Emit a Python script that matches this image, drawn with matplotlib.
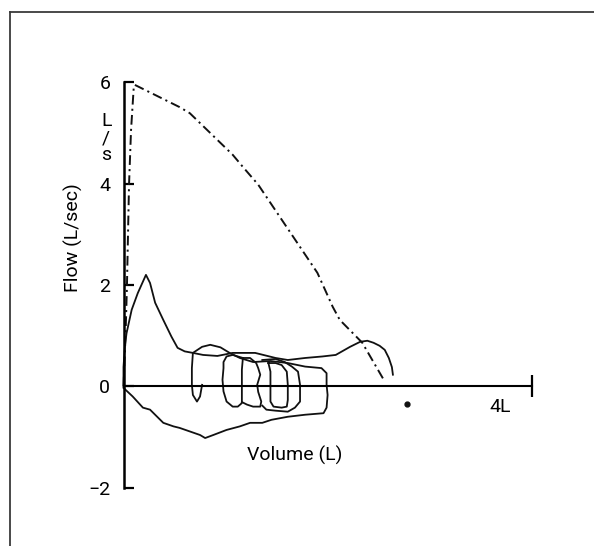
import matplotlib.pyplot as plt
import numpy as np

plt.rcParams['font.family'] = ['Roboto', 'DejaVu Sans']
plt.rcParams['font.stretch'] = 'condensed'
plt.rcParams['lines.scale_dashes'] = False

# maximal flow-volume envelope (dash-dot), volume in L, flow in L/s
max_vol = [0.00, 0.02, 0.034, 0.054, 0.074, 0.10, 0.11, 0.55, 0.65, 0.85, 1.07, 1.17,
           1.32, 1.53, 1.73, 1.90, 2.05, 2.12, 2.34, 2.55]
max_flow = [0.00, 1.00, 2.00, 3.97, 5.06, 5.89, 5.95, 5.51, 5.39, 5.00, 4.57, 4.33,
            3.98, 3.35, 2.75, 2.24, 1.57, 1.31, 0.86, 0.13]

# expiratory trace from the origin (solid)
exp_vol = [0.00, 0.00, 0.015, 0.03, 0.08, 0.14, 0.22, 0.26, 0.31, 0.39, 0.47, 0.53, 0.60,
           0.68, 0.78, 0.92, 1.07, 1.29, 1.49, 1.61, 1.78, 1.95, 2.08, 2.22, 2.32, 2.39,
           2.45, 2.51, 2.56, 2.60, 2.63, 2.64]
exp_flow = [0.00, 0.38, 0.82, 1.05, 1.51, 1.84, 2.20, 2.04, 1.65, 1.31, 0.98, 0.76, 0.69,
            0.66, 0.62, 0.60, 0.66, 0.66, 0.56, 0.52, 0.56, 0.59, 0.62, 0.78, 0.88, 0.90,
            0.86, 0.80, 0.72, 0.56, 0.38, 0.23]

# inspiratory trace and the large tidal loop (solid)
insp_vol = [0.00, 0.09, 0.19, 0.26, 0.33, 0.39, 0.49, 0.55, 0.65, 0.75, 0.80, 0.88, 1.01,
            1.14, 1.24, 1.36, 1.45, 1.61, 1.78, 1.96, 1.99, 2.00, 1.99, 1.99, 1.94, 1.78,
            1.61, 1.44, 1.27, 1.14, 1.04, 0.95, 0.85, 0.77, 0.68, 0.67, 0.67, 0.68, 0.72,
            0.75, 0.77]
insp_flow = [-0.03, -0.20, -0.42, -0.46, -0.60, -0.72, -0.79, -0.82, -0.89, -0.96, -1.02,
             -0.96, -0.86, -0.79, -0.72, -0.72, -0.66, -0.60, -0.56, -0.53, -0.42, -0.17,
             0.03, 0.26, 0.36, 0.39, 0.46, 0.50, 0.48, 0.56, 0.66, 0.77, 0.82, 0.78, 0.66,
             0.36, 0.03, -0.17, -0.30, -0.20, 0.03]

# smaller tidal loops drifting to the right
loop2_vol = [1.17, 1.12, 1.07, 1.01, 0.98, 0.98, 0.97, 0.98, 1.01, 1.07, 1.12, 1.16, 1.16,
             1.16, 1.16, 1.17]
loop2_flow = [0.56, 0.59, 0.62, 0.59, 0.48, 0.36, 0.13, -0.10, -0.30, -0.40, -0.40, -0.33,
              -0.17, 0.03, 0.33, 0.56]
loop3_vol = [1.17, 1.24, 1.30, 1.32, 1.34, 1.31, 1.32, 1.35, 1.34, 1.27, 1.21, 1.16]
loop3_flow = [0.56, 0.56, 0.46, 0.36, 0.23, 0.03, -0.11, -0.30, -0.40, -0.40, -0.36, -0.31]
loop4_vol = [1.42, 1.44, 1.44, 1.44, 1.47, 1.55, 1.60, 1.61, 1.61, 1.60, 1.55, 1.49, 1.42]
loop4_flow = [0.46, 0.29, 0.03, -0.30, -0.40, -0.42, -0.40, -0.27, 0.03, 0.29, 0.42, 0.46,
              0.46]
loop5_vol = [1.36, 1.49, 1.58, 1.65, 1.71, 1.73, 1.73, 1.68, 1.61, 1.49, 1.40, 1.36]
loop5_flow = [0.52, 0.54, 0.48, 0.39, 0.29, 0.03, -0.30, -0.42, -0.50, -0.48, -0.46, -0.38]

yticks = [-2, 0, 2, 4, 6]
ylabels = ['\u22122', '0', '2', '4', '6']

fig = plt.figure(figsize=(5.94, 5.46), dpi=100)
# outer frame (only top and left edges fall inside the picture)
fig.add_artist(plt.Line2D([10/594, 10/594], [0, 1 - 11.7/546], color='#3a3a3a', lw=1.3))
fig.add_artist(plt.Line2D([10/594, 1], [1 - 11.7/546, 1 - 11.7/546], color='#3a3a3a', lw=1.3))

ax = fig.add_axes([123.5/594, 1 - 487.7/546, 408.2/594, 405.4/546])
ax.patch.set_alpha(0)
ax.set_xlim(0, 4)
ax.set_ylim(-2, 6)
ax.spines[['top', 'right']].set_visible(False)
ax.spines['bottom'].set_position(('data', 0))
ax.spines['left'].set_linewidth(1.8)
ax.spines['bottom'].set_linewidth(1.5)

ax.set_yticks(yticks)
ax.set_yticklabels(ylabels)
ax.tick_params(axis='y', direction='in', length=7, width=1.6, pad=9.5, labelsize=14)
ax.set_xticks([4])
ax.set_xticklabels([''])
ax.tick_params(axis='x', direction='inout', length=16, width=1.6)

lc = '#111111'
ax.plot(max_vol, max_flow, color=lc, lw=1.4, linestyle=(0, (7, 3, 1.5, 3)), clip_on=False)
ax.plot(exp_vol, exp_flow, color=lc, lw=1.3, clip_on=False)
ax.plot(insp_vol, insp_flow, color=lc, lw=1.3, clip_on=False)
for v, f in [(loop2_vol, loop2_flow), (loop3_vol, loop3_flow),
             (loop4_vol, loop4_flow), (loop5_vol, loop5_flow)]:
    ax.plot(v, f, color=lc, lw=1.3, clip_on=False)
ax.plot([2.78], [-0.35], 'o', ms=3.5, color=lc)

ax.text(3.69, -0.4, '4L', ha='center', va='center', fontsize=14)
ax.text(-0.17, 4.9, 'L\n/\ns', ha='center', va='center', fontsize=14, linespacing=0.9)
fig.text(73.5/594, 1 - 238/546, 'Flow (L/sec)', rotation=90, ha='center', va='center', fontsize=14)
fig.text(295/594, 1 - 455/546, 'Volume (L)', ha='center', va='center', fontsize=14)

plt.savefig('out.png', dpi=100)
